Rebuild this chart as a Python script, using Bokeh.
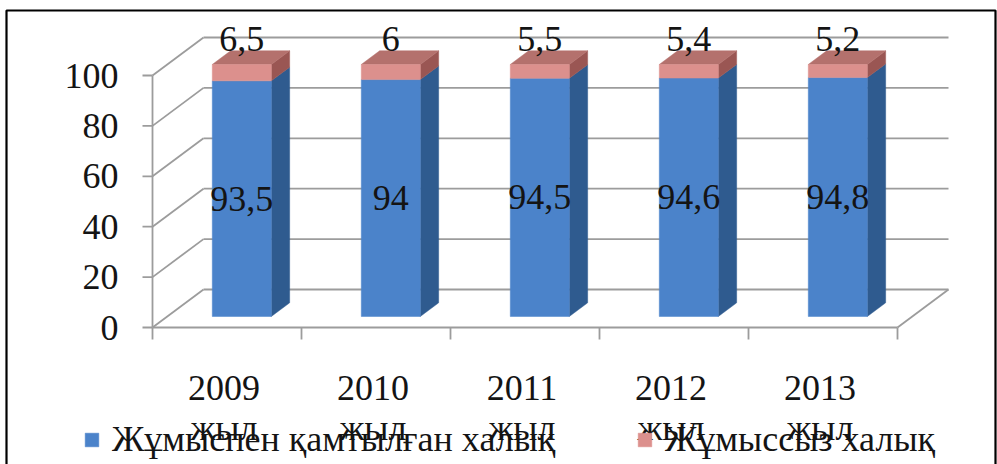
from bokeh.plotting import figure
from bokeh.models import Range1d, Legend, LegendItem
from bokeh.embed import file_html
from bokeh.resources import INLINE
from bokeh.core.properties import value

# ---------------- data ----------------
years = ["2009", "2010", "2011", "2012", "2013"]
year_word = "жыл"
employed = [93.5, 94.0, 94.5, 94.6, 94.8]
unemployed = [6.5, 6.0, 5.5, 5.4, 5.2]
y_ticks = [0, 20, 40, 60, 80, 100]
series_names = ["Жұмыспен қамтылған халық", "Жұмыссыз халық"]

# ---------------- layout constants ----------------
W, H = 997, 464
X0_PX, Y0_PX = 152, 327      # canvas pixel of the data origin
PXX, PXY = 149.0, 2.52       # pixels per category / per value unit
FONT = "Liberation Serif"
FS = "36px"


def ux(px):
    return px / PXX


def uy(px):
    return px / PXY


DX, DY = ux(51), uy(38)      # depth vector of the 3-D box
F0, FD = 0.29, 0.36          # bar front depth and bar thickness (fractions of depth)
BAR_W = ux(59)

GRID = "#9c9c9c"
BLUE, BLUE_SIDE = "#4b83ca", "#2f5b8f"
PINK, PINK_TOP, PINK_SIDE = "#dc908d", "#b4716d", "#9a5653"

p = figure(width=W, height=H, output_backend="svg", toolbar_location=None,
           x_range=Range1d(-X0_PX / PXX, (W - X0_PX) / PXX),
           y_range=Range1d(-(H - Y0_PX) / PXY, Y0_PX / PXY),
           x_axis_location=None, y_axis_location=None, min_border=0,
           outline_line_color=None, background_fill_color="white",
           border_fill_color="white")
p.grid.visible = False

n = len(years)
top_val = y_ticks[-1]

# ---------------- walls, floor, axis ----------------
x0s, y0s, x1s, y1s = [], [], [], []
for t in y_ticks:
    x0s += [0, DX]
    y0s += [t, t + DY]
    x1s += [DX, n + DX]
    y1s += [t + DY, t + DY]
# floor front and right edge
x0s += [0, n]
y0s += [0, 0]
x1s += [n, n + DX]
y1s += [0, DY]
# value axis line
x0s.append(0); y0s.append(0); x1s.append(0); y1s.append(top_val)
# value ticks
for t in y_ticks:
    x0s.append(-ux(10)); y0s.append(t); x1s.append(0); y1s.append(t)
# category ticks
for i in range(n + 1):
    x0s.append(i); y0s.append(0); x1s.append(i); y1s.append(-uy(12))
p.segment(x0s, y0s, x1s, y1s, line_color=GRID, line_width=1.8)

# ---------------- bars ----------------
cx = [i + 0.5 + F0 * DX for i in range(n)]
left = [c - BAR_W / 2 for c in cx]
right = [c + BAR_W / 2 for c in cx]
base = F0 * DY
blue_top = [base + e for e in employed]
pink_top = [base + e + u for e, u in zip(employed, unemployed)]
ddx, ddy = FD * DX, FD * DY

# side faces
def side(bottoms, tops):
    xs, ys = [], []
    for r, b, t in zip(right, bottoms, tops):
        xs.append([r, r + ddx, r + ddx, r])
        ys.append([b, b + ddy, t + ddy, t])
    return xs, ys

sx, sy = side([base] * n, blue_top)
p.patches(sx, sy, fill_color=BLUE_SIDE, line_color=BLUE_SIDE, line_width=0.5)
sx, sy = side(blue_top, pink_top)
p.patches(sx, sy, fill_color=PINK_SIDE, line_color=PINK_SIDE, line_width=0.5)

# top faces
tx, ty = [], []
for l, r, t in zip(left, right, pink_top):
    tx.append([l, r, r + ddx, l + ddx])
    ty.append([t, t, t + ddy, t + ddy])
p.patches(tx, ty, fill_color=PINK_TOP, line_color=PINK_TOP, line_width=0.5)

# front faces
r_blue = p.quad(left=left, right=right, bottom=[base] * n, top=blue_top,
                fill_color=BLUE, line_color=BLUE, line_width=0.5)
r_pink = p.quad(left=left, right=right, bottom=blue_top, top=pink_top,
                fill_color=PINK, line_color=PINK, line_width=0.5)

# ---------------- data labels ----------------
def fmt(v):
    return f"{v:g}".replace(".", ",")

p.text(x=cx, y=[base + e / 2 for e in employed], text=[fmt(v) for v in employed],
       text_font=value(FONT), text_font_size=FS, text_color="#141414",
       text_align="center", text_baseline="middle")
p.text(x=cx, y=[t + ddy + uy(12) for t in pink_top], text=[fmt(v) for v in unemployed],
       text_font=value(FONT), text_font_size=FS, text_color="#141414",
       text_align="center", text_baseline="middle")

# ---------------- axis labels ----------------
p.text(x=[0] * len(y_ticks), y=y_ticks, text=[str(t) for t in y_ticks],
       x_offset=-34, text_font=value(FONT), text_font_size=FS, text_color="#141414",
       text_align="right", text_baseline="middle")
cat_x = [i + 0.5 - ux(3) for i in range(n)]
p.text(x=cat_x, y=[-uy(387 - Y0_PX)] * n, text=years,
       text_font=value(FONT), text_font_size=FS, text_color="#141414",
       text_align="center", text_baseline="alphabetic")
p.text(x=cat_x, y=[-uy(427 - Y0_PX)] * n, text=[year_word] * n,
       text_font=value(FONT), text_font_size=FS, text_color="#141414",
       text_align="center", text_baseline="alphabetic")

# ---------------- outer border ----------------
p.quad(left=[-ux(X0_PX - 6)], right=[ux(995 - X0_PX)], top=[uy(Y0_PX - 10)],
       bottom=[-uy(H + 20 - Y0_PX)], fill_color=None, line_color="black", line_width=2.2)

# ---------------- legends ----------------
for name, rend, loc in [(series_names[0], r_blue, (83, 4)), (series_names[1], r_pink, (636, 4))]:
    lg = Legend(items=[LegendItem(label=name, renderers=[rend])], location=loc,
                padding=0, margin=0, spacing=0, glyph_width=17, glyph_height=17,
                label_standoff=12, label_text_font=FONT, label_text_font_size=FS,
                label_text_color="#141414", border_line_color=None,
                background_fill_alpha=0)
    p.add_layout(lg)

open("out.html", "w").write(file_html(p, INLINE))
